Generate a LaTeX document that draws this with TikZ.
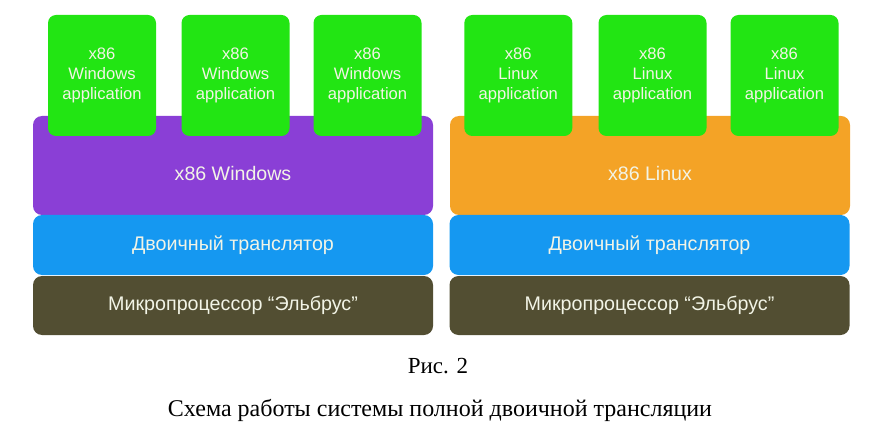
\documentclass[tikz,border=0pt]{standalone}
\usepackage{fontspec}
\setmainfont{Liberation Serif}
\setsansfont{Liberation Sans}
\definecolor{appgreen}{HTML}{22E513}
\definecolor{winviolet}{HTML}{8A3FD6}
\definecolor{linorange}{HTML}{F4A326}
\definecolor{transblue}{HTML}{1598F1}
\definecolor{cpuolive}{HTML}{524E32}
\definecolor{labelwhite}{HTML}{F2F4E6}
\tikzset{
	layer/.style={rectangle, rounded corners=9pt, minimum width=400pt, inner sep=0pt, draw=none, text=labelwhite, font=\sffamily\fontsize{19.7}{23}\selectfont},
	app/.style={rectangle, rounded corners=8pt, fill=appgreen, minimum width=108pt, minimum height=121pt, inner sep=0pt, align=center, text=labelwhite, font=\sffamily\fontsize{16.6}{20}\selectfont},
	laytext/.style={text=labelwhite, font=\sffamily\fontsize{19.6}{23}\selectfont}
}

\begin{document}
\begin{tikzpicture}[x=1pt, y=-1pt]
			%%%%% START %%%%%
			\useasboundingbox (0, 0) rectangle (882, 438);
			
			% Windows side
			\node[layer, fill=winviolet, minimum height=99pt] (winos) at (233, 165.5) {};
			\node[layer, fill=transblue, minimum height=60pt] (wintrans) at (233, 245) {Двоичный транслятор};
			\node[layer, fill=cpuolive, minimum height=59pt] (wincpu) at (233, 305.5) {Микропроцессор “Эльбрус”};
			\node[laytext] (winostext) at (233, 173) {x86 Windows};
			
			\node[app] (winappA) at (102, 75.5) {x86\\Windows\\application};
			\node[app] (winappB) at (235.5, 75.5) {x86\\Windows\\application};
			\node[app] (winappC) at (367.5, 75.5) {x86\\Windows\\application};
			
			% Linux side
			\node[layer, fill=linorange, minimum height=99pt] (linos) at (650, 165.5) {};
			\node[layer, fill=transblue, minimum height=60pt] (lintrans) at (649.5, 245) {Двоичный транслятор};
			\node[layer, fill=cpuolive, minimum height=59pt] (lincpu) at (649.5, 305.5) {Микропроцессор “Эльбрус”};
			\node[laytext] (linostext) at (650, 173) {x86 Linux};
			
			\node[app] (linappA) at (518.3, 75.5) {x86\\Linux\\application};
			\node[app] (linappB) at (652.5, 75.5) {x86\\Linux\\application};
			\node[app] (linappC) at (784.5, 75.5) {x86\\Linux\\application};
			
			% caption
			\node[font=\fontsize{23}{26}\selectfont] (figno) at (438, 366) {Рис. 2};
			\node[font=\fontsize{24}{27}\selectfont] (figcaption) at (440, 410) {Схема работы системы полной двоичной трансляции};
			%%%%% END %%%%%
\end{tikzpicture}
\end{document}
